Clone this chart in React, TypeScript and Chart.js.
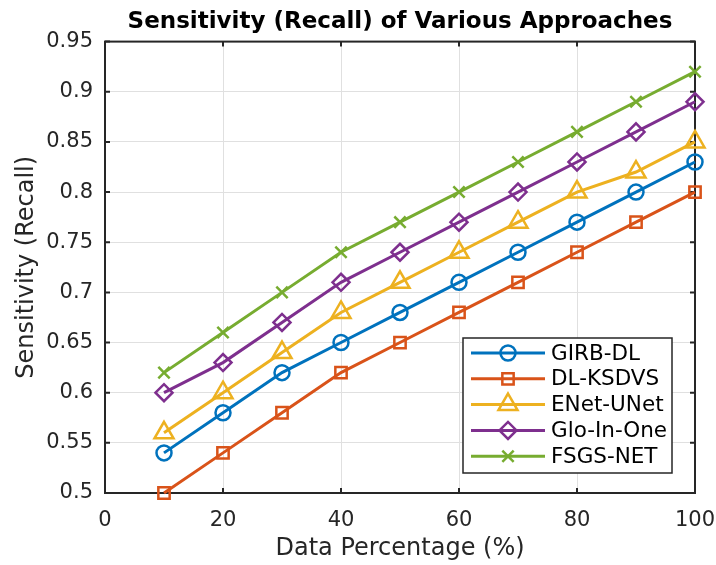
import React, { useEffect, useRef } from "react";
import { Chart, registerables } from "chart.js";
import { drawPoint } from "chart.js/helpers";

Chart.register(...registerables);

const xValues = [10, 20, 30, 40, 50, 60, 70, 80, 90, 100];
const girbDL = [0.54, 0.58, 0.62, 0.65, 0.68, 0.71, 0.74, 0.77, 0.80, 0.83];
const dlKSDVS = [0.50, 0.54, 0.58, 0.62, 0.65, 0.68, 0.71, 0.74, 0.77, 0.80];
const enetUNet = [0.56, 0.60, 0.64, 0.68, 0.71, 0.74, 0.77, 0.80, 0.82, 0.85];
const gloInOne = [0.60, 0.63, 0.67, 0.71, 0.74, 0.77, 0.80, 0.83, 0.86, 0.89];
const fsgsNET = [0.62, 0.66, 0.70, 0.74, 0.77, 0.80, 0.83, 0.86, 0.89, 0.92];

const seriesNames = ["GIRB-DL", "DL-KSDVS", "ENet-UNet", "Glo-In-One", "FSGS-NET"];
const seriesColors = ["#0072BD", "#D95319", "#EDB120", "#7E2F8E", "#77AC30"];
const seriesMarkers = ["circle", "rect", "triangle", "rectRot", "crossRot"];
const markerRadius = [7.5, 8, 11, 8.5, 8];
const seriesData = [girbDL, dlKSDVS, enetUNet, gloInOne, fsgsNET];

const title = "Sensitivity (Recall) of Various Approaches";
const xTitle = "Data Percentage (%)";
const yTitle = "Sensitivity (Recall)";

const FONT = "'DejaVu Sans', 'Liberation Sans', Arial, sans-serif";
const AXIS = "#262626";

const boxPlugin = {
  id: "box",
  beforeDatasetsDraw(chart: any) {
    const { ctx, chartArea: a, scales } = chart;
    ctx.save();
    ctx.strokeStyle = AXIS;
    ctx.lineWidth = 2;
    ctx.beginPath();
    scales.x.ticks.forEach((t: any) => {
      const px = scales.x.getPixelForValue(t.value);
      ctx.moveTo(px, a.top);
      ctx.lineTo(px, a.top + 5);
      ctx.moveTo(px, a.bottom);
      ctx.lineTo(px, a.bottom - 5);
    });
    scales.y.ticks.forEach((t: any) => {
      const py = scales.y.getPixelForValue(t.value);
      ctx.moveTo(a.right, py);
      ctx.lineTo(a.right - 5, py);
      ctx.moveTo(a.left, py);
      ctx.lineTo(a.left + 5, py);
    });
    ctx.stroke();
    ctx.strokeRect(a.left, a.top, a.right - a.left, a.bottom - a.top);
    ctx.restore();
  },
};

const legendPlugin = {
  id: "boxLegend",
  afterDraw(chart: any) {
    const { ctx } = chart;
    const x0 = 463, y0 = 338, w = 209, h = 135;
    ctx.save();
    ctx.fillStyle = "#ffffff";
    ctx.fillRect(x0, y0, w, h);
    ctx.strokeStyle = AXIS;
    ctx.lineWidth = 1.5;
    ctx.strokeRect(x0, y0, w, h);
    const rowH = 25.8;
    seriesNames.forEach((name, i) => {
      const cy = y0 + 15 + i * rowH;
      ctx.strokeStyle = seriesColors[i];
      ctx.lineWidth = 3;
      ctx.beginPath();
      ctx.moveTo(471, cy);
      ctx.lineTo(545, cy);
      ctx.stroke();
      ctx.fillStyle = "rgba(0,0,0,0)";
      ctx.strokeStyle = seriesColors[i];
      ctx.lineWidth = 2.5;
      drawPoint(ctx, { pointStyle: seriesMarkers[i], radius: markerRadius[i], borderWidth: 2.5, rotation: 0 } as any, 508, cy);
      ctx.fillStyle = "#000000";
      ctx.font = `21.5px ${FONT}`;
      ctx.textAlign = "left";
      ctx.textBaseline = "middle";
      ctx.fillText(name, 551, cy + 1);
    });
    ctx.restore();
  },
};

export default function App() {
  const ref = useRef<HTMLCanvasElement>(null);
  useEffect(() => {
    if (!ref.current) return;
    const chart = new Chart(ref.current, {
      type: "line",
      data: {
        datasets: seriesNames.map((name, i) => ({
          label: name,
          data: xValues.map((x, j) => ({ x, y: seriesData[i][j] })),
          borderColor: seriesColors[i],
          backgroundColor: "rgba(0,0,0,0)",
          pointBorderColor: seriesColors[i],
          pointBackgroundColor: "rgba(0,0,0,0)",
          pointStyle: seriesMarkers[i] as any,
          pointRadius: markerRadius[i],
          pointBorderWidth: 2.5,
          borderWidth: 3,
          tension: 0,
          clip: false as any,
        })),
      },
      options: {
        animation: false,
        responsive: true,
        maintainAspectRatio: false,
        layout: { padding: { left: 0, right: 21, top: 0, bottom: 0 } },
        plugins: {
          legend: { display: false },
          tooltip: { enabled: false },
          title: {
            display: true,
            fullSize: false,
            text: title,
            color: "#000000",
            font: { family: FONT, size: 23, weight: "bold" },
            padding: { top: 8, bottom: 6 },
          },
        },
        scales: {
          x: {
            type: "linear",
            min: 0,
            max: 100,
            ticks: { stepSize: 20, color: AXIS, font: { family: FONT, size: 21 }, padding: 15, maxRotation: 0 },
            grid: { color: "#e0e0e0", lineWidth: 1, drawTicks: false },
            border: { display: false },
            title: { display: true, text: xTitle, color: AXIS, font: { family: FONT, size: 24 }, padding: { top: 0, bottom: 2 } },
            afterFit(scale: any) {
              scale.height = 72;
              scale.paddingRight = 0;
              scale.paddingLeft = 0;
            },
          },
          y: {
            type: "linear",
            min: 0.5,
            max: 0.95,
            ticks: {
              stepSize: 0.05,
              color: AXIS,
              font: { family: FONT, size: 21 },
              padding: 12,
              callback: (v: any) => String(Number(Number(v).toFixed(2))),
            },
            grid: { color: "#e0e0e0", lineWidth: 1, drawTicks: false },
            border: { display: false },
            title: { display: true, text: yTitle, color: AXIS, font: { family: FONT, size: 24 }, padding: { top: 12, bottom: 0 } },
            afterFit(scale: any) { scale.width = 105; },
          },
        },
      },
      plugins: [boxPlugin, legendPlugin],
    });
    return () => chart.destroy();
  }, []);
  return (
    <div style={{ position: "fixed", left: 0, top: 0, width: 716, height: 565, background: "#fff" }}>
      <canvas ref={ref} />
    </div>
  );
}
